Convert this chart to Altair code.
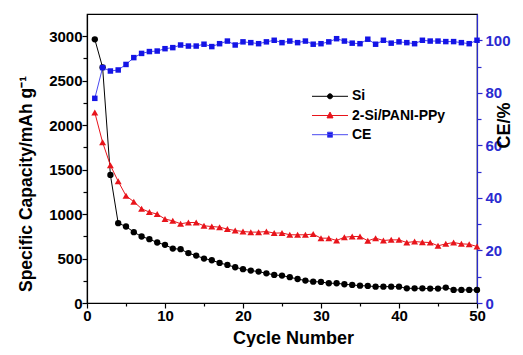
import altair as alt
import pandas as pd

cycles = list(range(1, 51))
si = [2965, 2650, 1440, 898, 860, 797, 748, 718, 680, 654,
      612, 605, 560, 533, 500, 481, 451, 428, 402, 380,
      365, 353, 334, 316, 308, 290, 270, 252, 240, 237,
      222, 222, 211, 203, 195, 192, 184, 184, 184, 184,
      165, 165, 165, 162, 162, 173, 147, 147, 147, 147]
ppy = [2142, 1807, 1548, 1368, 1206, 1139, 1060, 1022, 1000, 944,
       924, 891, 905, 905, 868, 860, 853, 831, 815, 804,
       797, 797, 804, 786, 788, 767, 767, 767, 775, 729,
       729, 703, 740, 748, 748, 699, 729, 703, 710, 710,
       680, 691, 684, 680, 643, 665, 680, 665, 661, 635]
ce = [77.9, 89.6, 88.3, 88.7, 90.8, 93.4, 95.0, 95.7, 95.9, 96.8,
      97.2, 98.2, 97.8, 97.8, 98.5, 97.6, 98.7, 99.7, 98.2, 99.4,
      99.1, 98.7, 99.4, 100.0, 99.1, 99.7, 99.1, 99.7, 98.5, 98.7,
      99.4, 100.6, 99.7, 98.9, 98.7, 100.4, 98.5, 100.0, 98.9, 99.4,
      99.1, 98.7, 100.0, 99.7, 99.7, 99.5, 99.5, 99.1, 98.7, 100.0]

series = ["Si", "2-Si/PANI-PPy", "CE"]
colors = ["#000000", "#e8141b", "#1414e6"]
line_colors = ["#000000", "#e8141b", "#4a4af0"]
# legend glyphs: a short line with the marker in its middle (units of 5 px)
legend_paths = [
    "M-3.6,0L3.6,0M0.5,0A0.5,0.5,0,1,1,-0.5,0A0.5,0.5,0,1,1,0.5,0Z",
    "M-3.6,0L3.6,0M0,-0.68L0.6,0.48L-0.6,0.48Z",
    "M-3.6,0L3.6,0M-0.5,-0.5L0.5,-0.5L0.5,0.5L-0.5,0.5Z",
]

df = pd.DataFrame({"cycle": cycles, "Si": si, "2-Si/PANI-PPy": ppy, "CE": ce})

FONT = "Liberation Sans"
BLUE_AX = "#2a2ad0"

x_enc = alt.X(
    "cycle:Q",
    scale=alt.Scale(domain=[0, 50], nice=False),
    axis=alt.Axis(
        values=list(range(0, 51, 5)),
        labelExpr="datum.value % 10 === 0 ? datum.label : ''",
        tickSize={"condition": {"test": "datum.value % 10 === 0", "value": 5}, "value": 3},
        title="Cycle Number",
        titleX=206, titleY=40, titleAlign="center", titleBaseline="alphabetic",
        grid=False, labelPadding=0, labelFlush=False,
    ),
)

y_left_axis = alt.Axis(
    values=list(range(0, 3001, 250)),
    labelExpr="datum.value % 500 === 0 ? datum.label : ''",
    tickSize={"condition": {"test": "datum.value % 500 === 0", "value": 5}, "value": 4},
    title="Specific Capacity/mAh g\u207b\u00b9",
    titleX=-56, titleY=169.5, titleAlign="center", titleBaseline="alphabetic",
    titleAngle=270, titleFontSize=17.5,
    grid=False, labelPadding=0, format="d",
)
y_si = alt.Y("Si:Q", scale=alt.Scale(domain=[0, 3250], nice=False), axis=y_left_axis)
y_ppy = alt.Y("2-Si/PANI-PPy:Q", scale=alt.Scale(domain=[0, 3250], nice=False), axis=y_left_axis)

base = alt.Chart(df)

si_line = base.mark_line(color=line_colors[0], strokeWidth=1).encode(x=x_enc, y=y_si)
si_pts = base.mark_point(shape="circle", filled=True, size=40, color=colors[0], opacity=1).encode(x=x_enc, y=y_si)
ppy_line = base.mark_line(color=line_colors[1], strokeWidth=1).encode(x=x_enc, y=y_ppy)
ppy_pts = base.mark_point(shape="triangle-up", filled=True, size=48, color=colors[1], opacity=1).encode(x=x_enc, y=y_ppy)

leg = alt.Legend(
    title=None, orient="none", legendX=236, legendY=75.3,
    labelFont=FONT, labelFontSize=14, labelFontWeight="bold",
    labelColor="black", labelOffset=15, rowPadding=5.2, padding=0,
    gridAlign="all",
    symbolSize=100, symbolOpacity=1, symbolStrokeWidth=1,
)

legend_layer = base.transform_fold(series, as_=["series", "val"]).mark_point(
    opacity=0, size=100, strokeWidth=1
).encode(
    x=x_enc,
    fill=alt.Fill("series:N", scale=alt.Scale(domain=series, range=colors), legend=leg),
    stroke=alt.Stroke("series:N", scale=alt.Scale(domain=series, range=line_colors), legend=leg),
    shape=alt.Shape("series:N", scale=alt.Scale(domain=series, range=legend_paths), legend=leg),
)

cap = alt.layer(si_line, ppy_line, si_pts, ppy_pts, legend_layer)

y_ce = alt.Y(
    "CE:Q",
    scale=alt.Scale(domain=[0, 110], nice=False),
    axis=alt.Axis(
        orient="right",
        values=list(range(0, 101, 10)),
        labelExpr="datum.value % 20 === 0 ? datum.label : ''",
        tickSize={"condition": {"test": "datum.value % 20 === 0", "value": 5}, "value": 4},
        title="CE/%",
        titleX=32, titleY=111, titleAlign="center", titleBaseline="alphabetic",
        titleAngle=270, titleColor="black",
        domainColor=BLUE_AX, tickColor=BLUE_AX, labelColor=BLUE_AX,
        grid=False, labelPadding=3,
    ),
)
ce_line = base.mark_line(color=line_colors[2], strokeWidth=1).encode(x=x_enc, y=y_ce)
ce_pts = base.mark_point(shape="square", filled=True, size=30, color=colors[2], opacity=1).encode(x=x_enc, y=y_ce)
ce_layer = alt.layer(ce_line, ce_pts)

chart = alt.layer(cap, ce_layer).resolve_scale(y="independent").properties(
    width=390, height=289,
    autosize=alt.AutoSizeParams(type="none"),
    padding={"left": 79, "top": 6, "right": 38, "bottom": 44},
).configure_view(
    stroke="black", strokeWidth=1.2
).configure_axis(
    labelFont=FONT, labelFontSize=15, labelFontWeight="bold", labelColor="black",
    titleFont=FONT, titleFontSize=18, titleFontWeight="bold", titleColor="black",
    domainColor="black", domainWidth=1.2, tickColor="black", tickWidth=1.2,
)

chart.save("out.html", embed_options={"renderer": "svg", "actions": False})
